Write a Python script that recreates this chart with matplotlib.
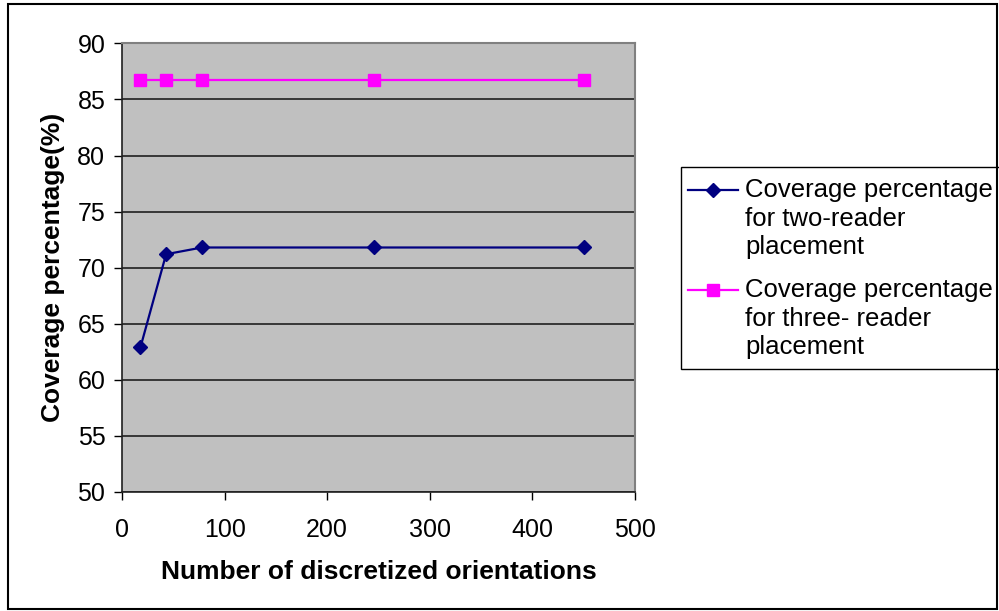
import matplotlib.pyplot as plt
from matplotlib.patches import Rectangle
from matplotlib.lines import Line2D

plt.rcParams['font.family'] = ['Liberation Sans', 'DejaVu Sans']

# number of discretized orientations
orientations = [18, 43, 78, 246, 450]
# coverage (%) for each placement
two_reader = [62.9, 71.2, 71.8, 71.8, 71.8]
three_reader = [86.7, 86.7, 86.7, 86.7, 86.7]

series_labels = [['Coverage percentage', 'for two-reader', 'placement'],
                 ['Coverage percentage', 'for three- reader', 'placement']]
series_colors = ['#000080', '#ff00ff']
series_markers = ['D', 's']
marker_sizes = [7, 8]

W, H = 999, 611
fig = plt.figure(figsize=(W / 100, H / 100), dpi=100)
ax = fig.add_axes([0.1221, 0.1948, 0.5135, 0.7342])
ax.set_facecolor('#c0c0c0')

for ys, c, m, ms in zip([two_reader, three_reader], series_colors,
                        series_markers, marker_sizes):
    ax.plot(orientations, ys, color=c, marker=m, markersize=ms, linewidth=1.6)

ax.set_xlim(0, 500)
ax.set_ylim(50, 90)
ax.set_xticks(range(0, 501, 100))
ax.set_yticks(range(50, 91, 5))
ax.yaxis.grid(True, color='#202020', linewidth=1.2)
ax.set_axisbelow(True)
ax.tick_params(axis='both', labelsize=18, length=6, width=1, pad=6)
ax.tick_params(axis='x', pad=13)

for side in ['left', 'bottom']:
    ax.spines[side].set_color('#202020')
    ax.spines[side].set_linewidth(1.2)
for side in ['right', 'top']:
    ax.spines[side].set_color('#808080')
    ax.spines[side].set_linewidth(1.5)

ax.set_xlabel('Number of discretized orientations', fontsize=19,
              fontweight='bold', labelpad=13)
ax.set_ylabel('Coverage percentage(%)', fontsize=19, fontweight='bold',
              labelpad=9)

# legend box, handle sitting on the first line of each label
fig.patches.append(Rectangle((681 / W, 1 - 369 / H), (1000 - 681) / W, 202 / H,
                             transform=fig.transFigure, facecolor='white',
                             edgecolor='black', linewidth=1))
for i, (lines, c, m, ms) in enumerate(zip(series_labels, series_colors,
                                          series_markers, marker_sizes)):
    y0 = 190 + 100 * i
    fig.lines.append(Line2D([688 / W, 738 / W], [1 - y0 / H] * 2,
                            transform=fig.transFigure, color=c, linewidth=1.6))
    fig.lines.append(Line2D([713 / W], [1 - y0 / H], transform=fig.transFigure,
                            color=c, marker=m, markersize=ms, linestyle='none'))
    for j, txt in enumerate(lines):
        fig.text(745 / W, 1 - (y0 + 28.5 * j) / H, txt, fontsize=18.5,
                 va='center', ha='left')

# chart border
fig.patches.append(Rectangle((0.008, 0.004), 0.99, 0.99, transform=fig.transFigure,
                             fill=False, edgecolor='black', linewidth=1.5))

fig.savefig('out.png', dpi=100)
